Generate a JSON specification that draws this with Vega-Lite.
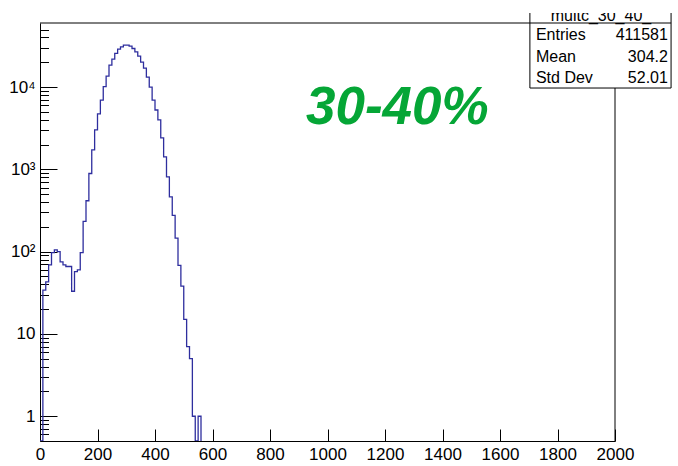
{
  "$schema": "https://vega.github.io/schema/vega-lite/v6.json",
  "width": 575,
  "height": 418,
  "autosize": {"type": "none"},
  "padding": {"left": 40, "top": 23, "right": 63, "bottom": 25},
  "background": "white",
  "config": {
    "view": {"stroke": null},
    "font": "Liberation Sans",
    "axis": {
      "grid": false,
      "title": null,
      "labelFont": "Liberation Sans",
      "labelFontSize": 17,
      "labelColor": "#000",
      "tickColor": "#000",
      "domainColor": "#000",
      "tickWidth": 1,
      "domainWidth": 1,
      "labelOverlap": false,
      "labelFlush": false
    }
  },
  "layer": [
    {
      "data": {
        "values": [
          {"x": 0, "n": 0}, {"x": 10, "n": 34}, {"x": 20, "n": 43}, {"x": 30, "n": 69},
          {"x": 40, "n": 97}, {"x": 50, "n": 105}, {"x": 60, "n": 100}, {"x": 70, "n": 75},
          {"x": 80, "n": 69}, {"x": 90, "n": 66}, {"x": 100, "n": 66}, {"x": 110, "n": 33},
          {"x": 120, "n": 57}, {"x": 130, "n": 60}, {"x": 140, "n": 97}, {"x": 150, "n": 233},
          {"x": 160, "n": 415}, {"x": 170, "n": 890}, {"x": 180, "n": 1720}, {"x": 190, "n": 3010},
          {"x": 200, "n": 4710}, {"x": 210, "n": 6950}, {"x": 220, "n": 10100}, {"x": 230, "n": 13600},
          {"x": 240, "n": 18500}, {"x": 250, "n": 21800}, {"x": 260, "n": 25600}, {"x": 270, "n": 28900},
          {"x": 280, "n": 30800}, {"x": 290, "n": 32300}, {"x": 300, "n": 32300}, {"x": 310, "n": 31400},
          {"x": 320, "n": 29400}, {"x": 330, "n": 26800}, {"x": 340, "n": 23800}, {"x": 350, "n": 20100},
          {"x": 360, "n": 17000}, {"x": 370, "n": 13200}, {"x": 380, "n": 10000}, {"x": 390, "n": 6950},
          {"x": 400, "n": 5260}, {"x": 410, "n": 3980}, {"x": 420, "n": 2410}, {"x": 430, "n": 1418},
          {"x": 440, "n": 811}, {"x": 450, "n": 464}, {"x": 460, "n": 276}, {"x": 470, "n": 146},
          {"x": 480, "n": 68}, {"x": 490, "n": 38}, {"x": 500, "n": 15}, {"x": 510, "n": 7},
          {"x": 520, "n": 5}, {"x": 530, "n": 1}, {"x": 540, "n": 0}, {"x": 550, "n": 1},
          {"x": 560, "n": 0}
        ]
      },
      "mark": {"type": "line", "interpolate": "step-after", "color": "#2e2e9e", "strokeWidth": 1.3, "clip": true},
      "encoding": {
        "x": {
          "field": "x", "type": "quantitative",
          "scale": {"domain": [0, 2000], "nice": false, "zero": false},
          "axis": {
            "values": [0,50,100,150,200,250,300,350,400,450,500,550,600,650,700,750,800,850,900,950,1000,1050,1100,1150,1200,1250,1300,1350,1400,1450,1500,1550,1600,1650,1700,1750,1800,1850,1900,1950,2000],
            "format": "d",
            "labelExpr": "datum.value % 200 === 0 ? datum.label : ''",
            "tickSize": {"condition": {"test": "datum.value % 200 === 0", "value": -12}, "value": -6},
            "labelPadding": 17
          }
        },
        "y": {
          "field": "n", "type": "quantitative",
          "scale": {"type": "log", "domain": [0.5, 60000], "nice": false, "clamp": true},
          "axis": {
            "values": [0.6,0.7,0.8,0.9,1,2,3,4,5,6,7,8,9,10,20,30,40,50,60,70,80,90,100,200,300,400,500,600,700,800,900,1000,2000,3000,4000,5000,6000,7000,8000,9000,10000,20000,30000,40000,50000],
            "labelExpr": "datum.value === 1 ? '1' : datum.value === 10 ? '10' : datum.value === 100 ? '10²' : datum.value === 1000 ? '10³' : datum.value === 10000 ? '10⁴' : ''",
            "tickSize": {"condition": {"test": "indexof([1,10,100,1000,10000], datum.value) >= 0", "value": -17}, "value": -8.5},
            "labelPadding": 22
          }
        }
      }
    },
    {
      "data": {"values": [{}]},
      "layer": [
        {
          "mark": {"type": "rule", "color": "#000", "strokeWidth": 1},
          "encoding": {
            "x": {"datum": 2000, "type": "quantitative", "scale": {"domain": [0, 2000], "nice": false, "zero": false}},
            "y": {"datum": 0.5, "type": "quantitative", "scale": {"type": "log", "domain": [0.5, 60000], "nice": false}, "axis": null},
            "y2": {"datum": 60000}
          }
        },
        {
          "mark": {"type": "rule", "color": "#000", "strokeWidth": 1},
          "encoding": {
            "x": {"datum": 0, "type": "quantitative"},
            "x2": {"datum": 2000},
            "y": {"datum": 60000, "type": "quantitative"}
          }
        },
        {
          "mark": {"type": "text", "text": "30-40%", "font": "Liberation Sans", "fontSize": 53, "fontWeight": "bold", "fontStyle": "italic", "color": "#05a636", "align": "center", "baseline": "alphabetic"},
          "encoding": {
            "x": {"datum": 1243, "type": "quantitative"},
            "y": {"datum": 3555, "type": "quantitative"}
          }
        },
        {
          "mark": {"type": "rect", "fill": "white", "stroke": "#000", "strokeWidth": 1},
          "encoding": {
            "x": {"datum": 1704, "type": "quantitative"},
            "x2": {"datum": 2195},
            "y": {"datum": 9730, "type": "quantitative"},
            "y2": {"datum": 300000}
          }
        },
        {
          "mark": {"type": "rule", "color": "#000", "strokeWidth": 1},
          "encoding": {
            "x": {"datum": 1704, "type": "quantitative"},
            "x2": {"datum": 2195},
            "y": {"datum": 60000, "type": "quantitative"}
          }
        },
        {
          "mark": {"type": "text", "text": "multc_30_40_", "font": "Liberation Sans", "fontSize": 16, "color": "#000", "align": "center", "baseline": "alphabetic"},
          "encoding": {
            "x": {"datum": 1951, "type": "quantitative"},
            "y": {"datum": 63400, "type": "quantitative"}
          }
        },
        {
          "mark": {"type": "text", "text": "Entries", "font": "Liberation Sans", "fontSize": 16, "color": "#000", "align": "left", "baseline": "middle"},
          "encoding": {"x": {"datum": 1725, "type": "quantitative"}, "y": {"datum": 42850, "type": "quantitative"}}
        },
        {
          "mark": {"type": "text", "text": "411581", "font": "Liberation Sans", "fontSize": 16, "color": "#000", "align": "right", "baseline": "middle"},
          "encoding": {"x": {"datum": 2184, "type": "quantitative"}, "y": {"datum": 42850, "type": "quantitative"}}
        },
        {
          "mark": {"type": "text", "text": "Mean", "font": "Liberation Sans", "fontSize": 16, "color": "#000", "align": "left", "baseline": "middle"},
          "encoding": {"x": {"datum": 1725, "type": "quantitative"}, "y": {"datum": 23200, "type": "quantitative"}}
        },
        {
          "mark": {"type": "text", "text": "304.2", "font": "Liberation Sans", "fontSize": 16, "color": "#000", "align": "right", "baseline": "middle"},
          "encoding": {"x": {"datum": 2184, "type": "quantitative"}, "y": {"datum": 23200, "type": "quantitative"}}
        },
        {
          "mark": {"type": "text", "text": "Std Dev", "font": "Liberation Sans", "fontSize": 16, "color": "#000", "align": "left", "baseline": "middle"},
          "encoding": {"x": {"datum": 1725, "type": "quantitative"}, "y": {"datum": 12900, "type": "quantitative"}}
        },
        {
          "mark": {"type": "text", "text": "52.01", "font": "Liberation Sans", "fontSize": 16, "color": "#000", "align": "right", "baseline": "middle"},
          "encoding": {"x": {"datum": 2184, "type": "quantitative"}, "y": {"datum": 12900, "type": "quantitative"}}
        },
        {
          "mark": {"type": "rect", "fill": "white", "strokeWidth": 0},
          "encoding": {
            "x": {"datum": 1690, "type": "quantitative"},
            "x2": {"datum": 2230},
            "y": {"datum": 79400, "type": "quantitative"},
            "y2": {"datum": 300000}
          }
        }
      ]
    }
  ],
  "resolve": {"scale": {"y": "independent"}}
}
